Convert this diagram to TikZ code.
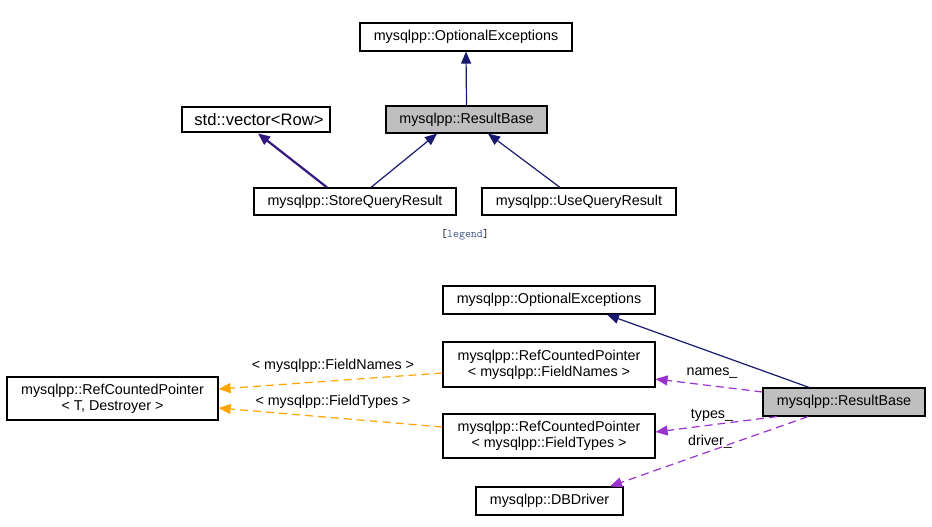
\documentclass[tikz,border=0pt]{standalone}
\usepackage{fontspec}
\setmainfont{Liberation Sans}
\usetikzlibrary{arrows.meta}
\definecolor{navyedge}{HTML}{191970}
\definecolor{purpedge}{HTML}{9A32CD}
\definecolor{orgedge}{HTML}{FFA500}
\definecolor{vecedge}{HTML}{35187F}
\definecolor{leggray}{HTML}{BFBFBF}
\definecolor{legblue}{HTML}{3D578C}
\begin{document}
\begin{tikzpicture}[x=1pt,y=-1pt,
  cls/.style={draw=black,line width=1.2pt,fill=white,inner sep=0pt,align=center,
    font=\fontsize{14.3}{16}\selectfont},
  cur/.style={cls,fill=leggray},
  lbl/.style={inner sep=0pt,font=\fontsize{14.3}{16}\selectfont},
  inh/.style={draw=navyedge,line width=1.2pt,-{Triangle[length=12pt,width=10pt]}},
  usage/.style={draw=purpedge,line width=1.2pt,dash pattern=on 8pt off 5pt,-{Triangle[length=12pt,width=10pt]}},
  tmpl/.style={draw=orgedge,line width=1.2pt,dash pattern=on 8pt off 5pt,-{Triangle[length=12pt,width=10pt]}}
]
\useasboundingbox[fill=white] (0,0) rectangle (932,527);
% ---- top graph ----
\node[cls,minimum width=212,minimum height=28] (oe1) at (466,37) {mysqlpp::OptionalExceptions};
\node[cur,minimum width=161,minimum height=27] (rb1) at (466.5,119.5) {mysqlpp::ResultBase};
\node[cls,line width=2.8pt,minimum width=148,minimum height=25,font=\fontsize{16.6}{18}\selectfont] (vec) at (256,119.5) {\hspace*{6pt}std::vector{\textless}Row{\textgreater}};
\node[cls,minimum width=202,minimum height=27] (sqr) at (355,201.5) {mysqlpp::StoreQueryResult};
\node[cls,minimum width=194,minimum height=27] (uqr) at (579,201.5) {mysqlpp::UseQueryResult};
\node[inner sep=0pt,font=\ttfamily\fontsize{11.6}{13}\selectfont] (leg) at (465,235) {[\textcolor{legblue}{legend}]};
\draw[inh] (rb1.north) -- (oe1.south);
\draw[inh] ([xshift=16]sqr.north) -- ([xshift=-29.5]rb1.south);
\draw[inh] ([xshift=-19]uqr.north) -- ([xshift=21.5]rb1.south);
\draw[draw=vecedge,line width=2.2pt,-{Triangle[length=12pt,width=10pt]}] ([xshift=-28]sqr.north) -- ([xshift=2]vec.south);
% ---- bottom graph ----
\node[cls,minimum width=212,minimum height=28] (oe2) at (549,300) {mysqlpp::OptionalExceptions};
\node[cls,minimum width=212,minimum height=45] (fn) at (549,364.5) {mysqlpp::RefCountedPointer\\{\textless} mysqlpp::FieldNames {\textgreater}};
\node[cls,minimum width=212,minimum height=44] (ft) at (549,436) {mysqlpp::RefCountedPointer\\{\textless} mysqlpp::FieldTypes {\textgreater}};
\node[cls,minimum width=147,minimum height=28] (dbd) at (549.5,501) {mysqlpp::DBDriver};
\node[cur,minimum width=162,minimum height=28] (rb2) at (844,402) {mysqlpp::ResultBase};
\node[cls,minimum width=211,minimum height=43] (rcp) at (112.5,398.5) {mysqlpp::RefCountedPointer\\{\textless} T, Destroyer {\textgreater}};
\draw[inh] ([xshift=-35]rb2.north) -- ([xshift=58]oe2.south);
\draw[usage] ([yshift=10]rb2.west) -- ([yshift=-14.5]fn.east);
\draw[usage] ([xshift=-67]rb2.south) -- ([yshift=4]ft.east);
\draw[usage] ([xshift=-36]rb2.south) -- ([xshift=60.5]dbd.north);
\draw[tmpl] ([yshift=-8.5]fn.west) -- ([yshift=9.5]rcp.east);
\draw[tmpl] ([yshift=9]ft.west) -- ([yshift=-9.5]rcp.east);
\node[lbl] (lnames) at (712,373) {names\_};
\node[lbl] (ltypes) at (712,415) {types\_};
\node[lbl] (ldriver) at (710,442) {driver\_};
\node[lbl] (lfn) at (333,366) {{\textless} mysqlpp::FieldNames {\textgreater}};
\node[lbl] (lft) at (333,402) {{\textless} mysqlpp::FieldTypes {\textgreater}};
\end{tikzpicture}
\end{document}
